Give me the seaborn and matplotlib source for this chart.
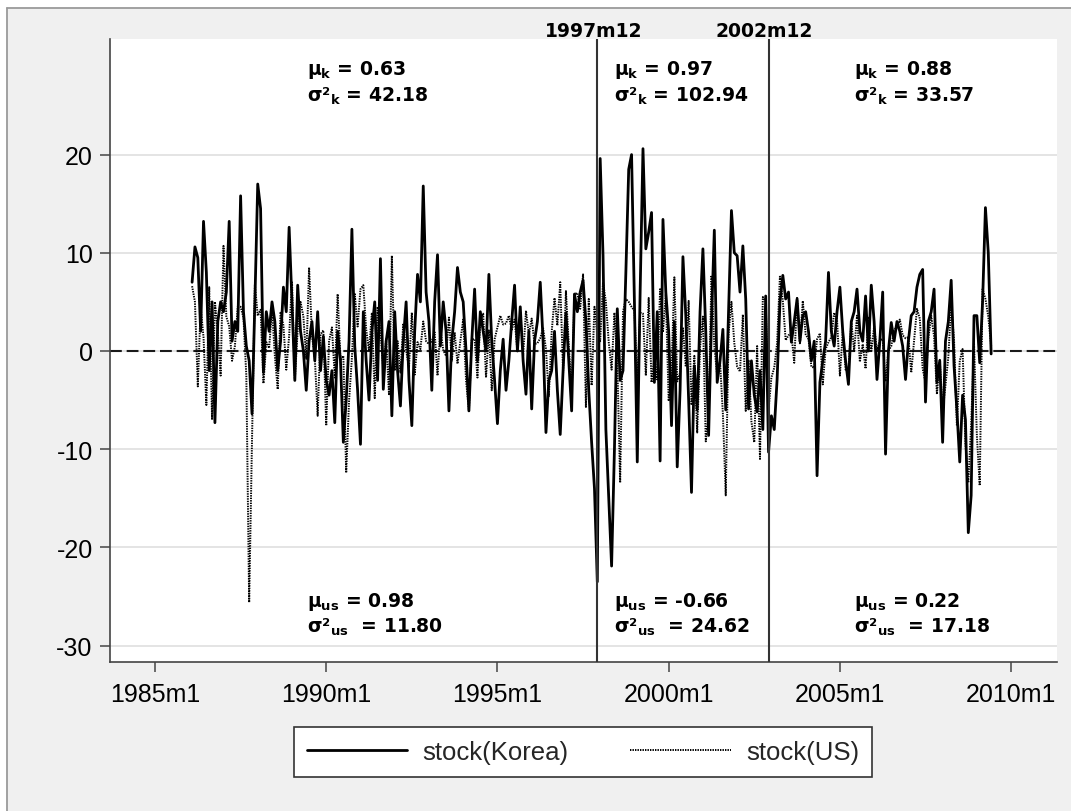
import numpy as np
import pandas as pd
import matplotlib
matplotlib.use("Agg")
import matplotlib.pyplot as plt
import seaborn as sns
from matplotlib.lines import Line2D
from matplotlib.patches import Rectangle

# ---------------- data (monthly, starting 1986m2) ----------------
start_year, start_month = 1986, 2

korea = [
    7.0, 10.6, 9.5, 2.0, 13.2, 8.0, -2.0, 5.0, -7.3, 3.0, 5.0,                # 1986 Feb-Dec
    4.0, 6.0, 13.2, 1.0, 3.0, 2.0, 15.8, 4.0, 0.5, -1.0, -6.4, 5.0,            # 1987
    17.0, 14.5, -2.2, 4.0, 2.0, 5.0, 3.0, -2.0, 1.0, 6.5, 4.0, 12.6,           # 1988
    5.0, -3.0, 6.7, 2.0, 0.0, -4.0, 1.0, 3.0, -1.0, 4.0, -2.0, 1.5,            # 1989
    -3.0, -4.5, -2.0, -7.3, 2.0, -1.0, -9.3, -5.0, 1.0, 12.4, 0.5, -4.0,       # 1990
    -9.5, 4.0, -1.0, -5.0, 2.0, 5.0, -3.0, 9.4, -3.9, 1.0, 3.0, -6.6,          # 1991
    4.0, -2.0, -5.6, 1.0, 5.0, -3.0, -7.6, 2.0, 7.8, 5.0, 16.8, 6.0,           # 1992
    3.0, -4.0, 5.0, 9.8, 0.5, 5.0, 2.0, -6.1, 1.0, 4.0, 8.5, 6.0,              # 1993
    5.0, 0.0, -6.1, 1.0, 6.3, -1.0, 4.0, 2.0, 0.0, 7.8, 1.0, -3.0,             # 1994
    -7.4, -2.0, 1.2, -4.0, -1.0, 3.0, 6.7, 0.0, 4.5, -1.0, -4.4, 2.0,          # 1995
    -5.9, 1.0, 3.0, 7.0, 1.0, -8.3, -3.0, -2.0, 2.0, -4.0, -8.5, -2.0,         # 1996
    3.9, -1.0, -6.1, 5.8, 4.0, 6.0, 7.2, 3.0, -4.0, -9.3, -14.0, -23.5,        # 1997
    19.6, 9.7, -8.0, -15.0, -21.9, -10.0, 4.3, -3.0, -2.0, 8.0, 18.5, 20.0,    # 1998
    5.0, -11.3, 6.0, 20.6, 10.4, 12.1, 14.1, -3.2, 4.0, -11.2, 13.4, 6.0,      # 1999
    2.0, -7.6, 3.0, -11.8, -4.0, 9.6, 3.6, -5.0, -14.4, -1.5, -6.0, 4.0,       # 2000
    10.4, 2.0, -8.6, 3.0, 12.3, -3.2, -1.0, 2.2, -6.0, 4.0, 14.3, 10.0,        # 2001
    9.7, 6.0, 10.7, 5.3, -5.9, -1.0, -4.5, -6.2, -2.0, -8.0, 5.6, -10.3,       # 2002
    -6.6, -8.0, -2.9, 5.0, 7.7, 5.3, 6.0, 0.9, 3.0, 5.3, 1.0, 3.6,             # 2003
    4.0, 2.0, -1.0, 1.0, -12.7, -3.2, -1.0, 1.0, 8.0, 2.0, 0.5, 4.0,           # 2004
    6.5, 2.0, -1.0, -3.4, 3.0, 4.0, 6.3, 2.0, 1.0, 5.6, 0.0, 6.7,              # 2005
    3.0, -2.9, 1.0, 6.0, -10.5, 0.0, 2.9, 1.0, 3.0, 2.0, 0.5, -2.9,            # 2006
    1.0, 3.6, 4.0, 6.5, 7.8, 8.3, -5.2, 3.0, 4.0, 6.3, -3.2, -1.0,             # 2007
    -9.3, 1.0, 3.0, 7.2, -1.5, -6.0, -11.3, -4.5, -7.0, -18.5, -14.7, 3.6,     # 2008
    3.6, -1.2, 5.0, 14.6, 10.0, -0.3,                                          # 2009 Jan-Jun
]

us = [
    6.6, 5.0, -3.6, 4.5, 1.4, -5.5, 6.5, -7.0, 5.0, 2.0, -2.5,                 # 1986 Feb-Dec
    10.7, 3.5, 2.5, -1.0, 0.5, 4.5, 4.5, 3.4, -2.5, -25.6, -9.0, 6.8,          # 1987
    3.6, 4.2, -3.3, 0.9, 0.3, 4.3, -0.5, -3.9, 4.0, 2.6, -1.9, 1.5,            # 1988
    7.1, -2.9, 2.1, 5.0, 3.5, -0.8, 8.5, 1.6, -0.7, -6.6, 1.7, 2.1,            # 1989
    -7.6, 1.0, 2.4, -2.7, 5.8, -0.9, -0.5, -12.4, -5.1, -0.7, 5.8, 2.5,        # 1990
    6.3, 6.7, 2.2, 0.0, 3.9, -4.8, 4.5, 2.0, -1.9, 1.2, -4.4, 9.7,             # 1991
    -2.0, 1.0, -2.2, 2.8, 0.1, -1.7, 3.9, -2.4, 0.9, 0.2, 3.0, 1.0,            # 1992
    0.7, 1.0, 1.9, -2.5, 2.3, 0.1, -0.5, 3.4, -1.0, 1.9, -1.3, 1.0,            # 1993
    3.2, -3.0, -6.1, 1.2, 1.2, -2.7, 3.1, 3.8, -2.7, 2.1, -4.0, 1.2,           # 1994
    2.4, 3.6, 2.7, 2.8, 3.6, 2.1, 3.2, 0.0, 4.0, -0.5, 4.1, 1.7,               # 1995
    3.3, 0.7, 0.8, 1.3, 2.3, 0.2, -4.6, 1.9, 5.4, 2.6, 7.0, -2.2,              # 1996
    6.1, 0.6, -4.3, 5.8, 5.9, 4.3, 7.8, -5.7, 5.3, -3.5, 4.5, 1.6,             # 1997
    1.0, 7.0, 5.0, 0.9, -1.9, 3.9, -1.2, -13.4, 4.0, 5.3, 5.0, 4.5,            # 1998
    4.1, -3.2, 3.9, 3.8, -2.5, 5.4, -3.2, -0.6, -2.9, 6.3, 1.9, 5.8,           # 1999
    -5.1, -2.0, 7.5, -3.1, -2.2, 2.4, -1.6, 5.1, -5.5, -0.5, -8.3, 0.4,        # 2000
    3.5, -9.2, -6.4, 7.7, 0.5, -2.5, -1.1, -6.4, -14.7, 1.8, 5.0, 0.8,         # 2001
    -1.6, -2.1, 3.7, -6.1, -0.9, -7.2, -9.3, 0.5, -11.0, 5.5, 5.0, -6.0,       # 2002
    -2.7, -1.7, 0.8, 7.7, 5.1, 1.1, 1.6, 1.8, -1.2, 5.5, 0.7, 5.1,             # 2003
    1.7, 1.2, -1.6, -1.7, 1.2, 1.8, -3.4, 0.2, 0.9, 1.4, 3.9, 3.2,             # 2004
    -2.5, 1.9, -1.9, -2.0, 3.0, 0.0, 3.6, -1.1, 0.7, -1.8, 3.5, -0.1,          # 2005
    2.5, 0.0, 1.1, 1.2, -3.1, 0.0, 0.5, 2.1, 2.5, 3.2, 1.6, 1.3,               # 2006
    1.4, -2.2, 1.0, 4.3, 3.3, -1.8, -3.2, 1.3, 3.6, 1.5, -4.4, -0.9,           # 2007
    -6.1, -3.5, -0.6, 4.8, 1.1, -7.6, -1.0, 0.2, -9.5, -13.4, -7.5, 0.8,       # 2008
    -8.6, -13.7, 6.3, 5.3, 3.5, 0.5,                                           # 2009 Jan-Jun
]

series_labels = ["stock(Korea)", "stock(US)"]
break_labels = ["1997m12", "2002m12"]
break_years = [1997, 2002]
break_months = [12, 12]
xtick_years = [1985, 1990, 1995, 2000, 2005, 2010]
xtick_labels = ["1985m1", "1990m1", "1995m1", "2000m1", "2005m1", "2010m1"]
yticks = [-30, -20, -10, 0, 10, 20]
mu_k = ["0.63", "0.97", "0.88"]
var_k = ["42.18", "102.94", "33.57"]
mu_us = ["0.98", "-0.66", "0.22"]
var_us = ["11.80", "24.62", "17.18"]

# ---------------- frame ----------------
n = len(korea)
t = start_year + (start_month - 1 + np.arange(n)) / 12.0
df = pd.DataFrame({"t": t, "korea": korea, "us": us})

sns.set_theme(style="white")
plt.rcParams["font.family"] = ["Liberation Sans", "DejaVu Sans"]
plt.rcParams["lines.scale_dashes"] = False

W, H = 1071, 812
fig = plt.figure(figsize=(W / 100, H / 100), dpi=100, facecolor="white")
# light-gray panel with a thin border at top/left
fig.add_artist(Rectangle((7 / W, 0), 1 - 7 / W, 1 - 9 / H, transform=fig.transFigure,
                         facecolor="#f0f0f0", edgecolor="none", zorder=-5))
fig.add_artist(Line2D([7 / W, 7 / W], [0, 1 - 9 / H], transform=fig.transFigure,
                      color="#9a9a9a", lw=1.3, zorder=-4))
fig.add_artist(Line2D([7 / W, 1], [1 - 9 / H, 1 - 9 / H], transform=fig.transFigure,
                      color="#9a9a9a", lw=1.3, zorder=-4))

ax = fig.add_axes([110 / W, 149 / H, 947 / W, 623 / H])
ax.set_facecolor("white")

# grid
ax.set_yticks(yticks)
ax.yaxis.grid(True, color="#e4e4e4", lw=1.4)
ax.xaxis.grid(False)
ax.set_axisbelow(True)

# zero line
ax.axhline(0, color="#1a1a1a", lw=1.5, dashes=(8.5, 3.5), zorder=1.5)

# series
sns.lineplot(data=df, x="t", y="korea", color="black", lw=2.0, ax=ax,
             label=series_labels[0], zorder=3)
sns.lineplot(data=df, x="t", y="us", color="black", lw=1.4, linestyle=(0, (1, 0.8)),
             ax=ax, label=series_labels[1], zorder=3)

ax.set_xlim(1983.686, 2011.34)
ax.set_ylim(-31.67, 31.77)

bold_font = ["DejaVu Sans"]

# break lines
for yr, mo, lab in zip(break_years, break_months, break_labels):
    xb = yr + (mo - 1) / 12.0
    ax.axvline(xb, color="#333333", lw=1.5, zorder=4)
    ax.text(xb - 0.12, 32.05, lab, ha="center", va="baseline", fontsize=13.5,
            fontweight="bold", family=bold_font, clip_on=False, color="black")

# statistics annotations
xs = [1989.44, 1998.405, 2005.415]
afont = dict(fontsize=13.5, fontweight="bold", family=bold_font,
             color="black", va="baseline", ha="left")
for x0, a, b, c, d in zip(xs, mu_k, var_k, mu_us, var_us):
    ax.text(x0, 28.2, "\u03bc$_\\mathregular{k}$ = " + a, **afont)
    ax.text(x0, 25.45, "\u03c3\u00b2$_\\mathregular{k}$ = " + b, **afont)
    ax.text(x0, -25.95, "\u03bc$_\\mathregular{us}$ = " + c, **afont)
    ax.text(x0, -28.6, "\u03c3\u00b2$_\\mathregular{us}$  = " + d, **afont)

# axes styling
ax.set_xticks(xtick_years)
ax.set_xticklabels(xtick_labels)
ax.set_yticklabels([str(v) for v in yticks])
ax.set_xlabel("")
ax.set_ylabel("")
sns.despine(ax=ax)
for s in ["left", "bottom"]:
    ax.spines[s].set_color("#444444")
    ax.spines[s].set_linewidth(1.2)
ax.tick_params(axis="both", which="major", bottom=True, left=True, direction="out",
               length=7.5, width=1.1, color="#444444", labelsize=18, labelcolor="black")
ax.tick_params(axis="x", pad=7)
ax.tick_params(axis="y", pad=5)

# legend below
handles, labels = ax.get_legend_handles_labels()
ax.get_legend().remove()
leg = fig.legend(handles, labels, loc="center", bbox_to_anchor=(583 / W, 1 - 753 / H),
                 ncol=2, frameon=True, fancybox=False, edgecolor="#333333",
                 facecolor="white", framealpha=1, fontsize=18.5, handlelength=3.9,
                 handletextpad=0.6, columnspacing=2.4, borderpad=0.5,
                 borderaxespad=0)
leg.get_frame().set_linewidth(1.2)

fig.savefig("out.png", dpi=100, facecolor=fig.get_facecolor())
